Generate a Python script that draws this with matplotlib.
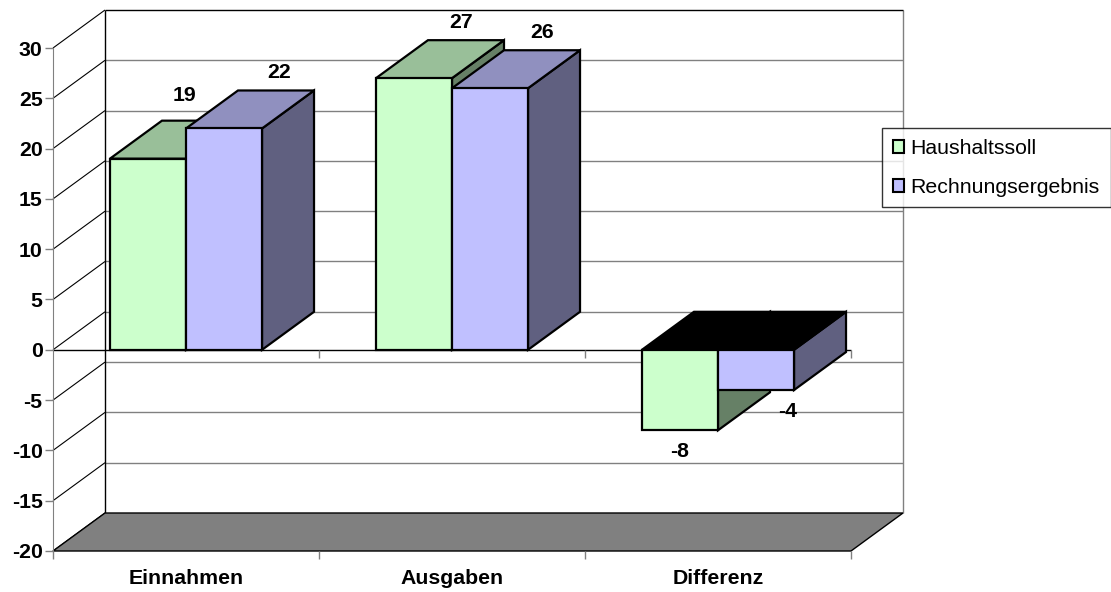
import matplotlib
matplotlib.use("Agg")
import matplotlib.pyplot as plt
from matplotlib.patches import Polygon, Patch

# ---- data -------------------------------------------------------------
categories = ["Einnahmen", "Ausgaben", "Differenz"]
series_names = ["Haushaltssoll", "Rechnungsergebnis"]
haushaltssoll = [19, 27, -8]
rechnungsergebnis = [22, 26, -4]
y_ticks = [-20, -15, -10, -5, 0, 5, 10, 15, 20, 25, 30]

# ---- styling ----------------------------------------------------------
FRONT = ["#CCFFCC", "#C0C0FF"]
TOP = ["#99BF99", "#9090BF"]
SIDE = ["#668066", "#606080"]
GRID = "#808080"
FLOOR = "#808080"
plt.rcParams["font.family"] = ["Liberation Sans", "DejaVu Sans"]
FS = 15.3

W, H, DPI = 1111, 592, 100
fig = plt.figure(figsize=(W / DPI, H / DPI), dpi=DPI)
ax = fig.add_axes([53 / W, 41 / H, 798 / W, 503 / H])
ax.set_xlim(0, len(categories))
ax.set_ylim(y_ticks[0], y_ticks[-1])
ax.patch.set_visible(False)

# oblique depth vector (pixels) converted into data units
DEPTH_PX = (52, 38)
fig.canvas.draw()
p0 = ax.transData.transform((0, 0))
q = ax.transData.inverted().transform((p0[0] + DEPTH_PX[0], p0[1] + DEPTH_PX[1]))
ddx, ddy = q[0], q[1]
px_y = -ax.transData.inverted().transform((p0[0], p0[1] - 1))[1]  # one pixel, in data

ymin, ymax = y_ticks[0], y_ticks[-1]
xmax = len(categories)


def line(xs, ys, color, lw, z):
    ax.plot(xs, ys, color=color, lw=lw, zorder=z, clip_on=False,
            solid_capstyle="butt")


def poly(pts, fc, z, lw=1.6, ec="black"):
    ax.add_patch(Polygon(pts, closed=True, facecolor=fc, edgecolor=ec,
                         lw=lw, zorder=z, clip_on=False, joinstyle="miter"))


# back wall grid lines
for v in y_ticks[1:-1]:
    line([ddx, xmax + ddx], [v + ddy, v + ddy], GRID, 1.0, 1)
line([ddx, xmax + ddx], [ymax + ddy, ymax + ddy], "black", 1.0, 1.1)
line([xmax + ddx, xmax + ddx], [ymin + ddy, ymax + ddy], GRID, 1.0, 1)
line([ddx, ddx], [ymin + ddy, ymax + ddy], "black", 1.0, 1.1)

# side wall diagonals
for v in y_ticks:
    line([0, ddx], [v, v + ddy], "black", 0.8, 1.1)

# floor
poly([(0, ymin), (xmax, ymin), (xmax + ddx, ymin + ddy), (ddx, ymin + ddy)],
     FLOOR, 1.2, lw=1.0)

# front zero line with category separators
line([0, xmax], [0, 0], "black", 1.0, 1.3)
for k in range(1, xmax + 1):
    line([k, k], [0, -8 * px_y], GRID, 1.0, 1.3)

# bars
BAR_W = 0.2858
values = [haushaltssoll, rechnungsergebnis]
for i in range(len(categories)):
    for j, vals in enumerate(values):
        v = vals[i]
        x0 = i + 0.5 - BAR_W + j * BAR_W
        x1 = x0 + BAR_W
        z = 3 + i + 0.1 * j
        if v >= 0:
            poly([(x1, 0), (x1, v), (x1 + ddx, v + ddy), (x1 + ddx, ddy)], SIDE[j], z)
            poly([(x0, v), (x1, v), (x1 + ddx, v + ddy), (x0 + ddx, v + ddy)], TOP[j], z)
        else:
            poly([(x1, 0), (x1 + ddx, ddy), (x1 + ddx, v + ddy), (x1, v)], SIDE[j], z)
            poly([(x0, 0), (x1, 0), (x1 + ddx, ddy), (x0 + ddx, ddy)], "black", z)
        poly([(x0, 0), (x1, 0), (x1, v), (x0, v)], FRONT[j], z + 0.01)

# value labels (pixel nudges per series / category)
LABEL_SHIFT_PX = [[(-15, 7), (-5, 0), (0, 0)],
                  [(3, 0), (0, 0), (32, 0)]]
for i in range(len(categories)):
    for j, vals in enumerate(values):
        v = vals[i]
        x0 = i + 0.5 - BAR_W + j * BAR_W
        xc = x0 + BAR_W / 2
        if v >= 0:
            px, py = ax.transData.transform((xc + ddx, v + ddy))
            py += 18
        else:
            px, py = ax.transData.transform((xc, v))
            py -= 21
        sx, sy = LABEL_SHIFT_PX[j][i]
        fig.text((px + sx) / W, (py + sy) / H, f"{v}", ha="center", va="center",
                 fontsize=FS, fontweight="bold", zorder=20)

# axes: value axis on the left, category labels at the bottom
for side in ("top", "right", "bottom"):
    ax.spines[side].set_visible(False)
ax.spines["left"].set_color(GRID)
ax.spines["left"].set_zorder(1.4)
ax.set_yticks(y_ticks)
ax.set_yticklabels([str(t) for t in y_ticks], fontsize=FS, fontweight="bold")
ax.tick_params(axis="y", length=6, color=GRID, pad=1.5, width=1)

ax.set_xticks([i + 0.5 for i in range(len(categories))])
ax.set_xticklabels(categories, fontsize=FS, fontweight="bold")
ax.set_xticks(range(0, xmax + 1), minor=True)
ax.tick_params(axis="x", which="major", length=0, pad=13)
ax.tick_params(axis="x", which="minor", length=6, color=GRID, width=1)

handles = [Patch(facecolor=FRONT[j], edgecolor="black", lw=1.5) for j in range(2)]
leg = fig.legend(handles, series_names, loc="upper left",
                 bbox_to_anchor=(882 / W, 1 - 128 / H), frameon=True,
                 fancybox=False, fontsize=FS, borderaxespad=0,
                 handlelength=0.55, handleheight=0.55, handletextpad=0.3,
                 labelspacing=0.95, borderpad=0.5)
leg.get_frame().set_edgecolor("black")
leg.get_frame().set_linewidth(1.0)
leg.set_zorder(30)

fig.savefig("out.png", dpi=DPI)
